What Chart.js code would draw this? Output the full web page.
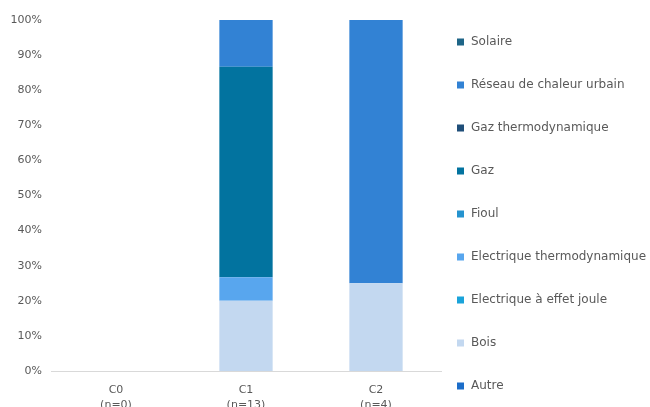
<!DOCTYPE html>
<html>
<head>
<meta charset="utf-8">
<script src="https://cdn.jsdelivr.net/npm/chart.js@4/dist/chart.umd.min.js"></script>
<style>
  html, body { margin: 0; padding: 0; background: #fff; overflow: hidden; }
  #wrap { width: 650px; height: 407px; overflow: hidden; }
</style>
</head>
<body>
<div id="wrap"><canvas id="myChart" width="650" height="460"></canvas></div>
<script>
// categories (two-line tick labels)
const categories = [['C0', '(n=0)'], ['C1', '(n=13)'], ['C2', '(n=4)']];

// share of each energy per category, in %
const autre = [0, 0, 0];
const bois = [0, 20, 25];
const elecJoule = [0, 0, 0];
const elecThermo = [0, 6.7, 0];
const fioul = [0, 0, 0];
const gaz = [0, 60, 0];
const gazThermo = [0, 0, 0];
const reseau = [0, 13.3, 75];
const solaire = [0, 0, 0];

const yTicks = [0, 10, 20, 30, 40, 50, 60, 70, 80, 90, 100];

const grey = '#595959';
const font = "'DejaVu Sans', sans-serif";

function serie(label, data, color) {
    return { label: label, data: data, backgroundColor: color, borderWidth: 0 };
}

// legend column on the right, last dataset on top, wide spacing between entries
const legendRight = {
    id: 'legendRight',
    afterDraw: function (c) {
        let g = c.ctx;
        let area = c.chartArea;
        let sets = c.data.datasets.slice().reverse();
        g.save();
        g.font = '12px ' + font;
        g.textBaseline = 'middle';
        sets.forEach(function (ds, i) {
            let y = area.top + 22 + i * 43;
            g.fillStyle = ds.backgroundColor;
            g.fillRect(area.right + 16, y - 3.5, 7, 7);
            g.fillStyle = grey;
            g.fillText(ds.label, area.right + 30, y);
        });
        g.restore();
    }
};

let ctx = document.getElementById('myChart').getContext('2d');
let chart = new Chart(ctx, {
    type: 'bar',
    data: {
        labels: categories,
        datasets: [
            serie('Autre', autre, '#1b6dc9'),
            serie('Bois', bois, '#c3d8f0'),
            serie('Electrique à effet joule', elecJoule, '#1aa3da'),
            serie('Electrique thermodynamique', elecThermo, '#58a6ee'),
            serie('Fioul', fioul, '#2593cf'),
            serie('Gaz', gaz, '#02739f'),
            serie('Gaz thermodynamique', gazThermo, '#1f4e79'),
            serie('Réseau de chaleur urbain', reseau, '#3282d4'),
            serie('Solaire', solaire, '#1e6587')
        ]
    },
    plugins: [legendRight],
    options: {
        responsive: false,
        animation: false,
        layout: { padding: { top: 20, right: 209, bottom: 0, left: 0 } },
        datasets: { bar: { barPercentage: 0.41, categoryPercentage: 1 } },
        plugins: {
            tooltip: { enabled: false },
            legend: { display: false }
        },
        scales: {
            x: {
                stacked: true,
                grid: { display: false, drawTicks: false },
                border: { display: true, color: '#d9d9d9', width: 1 },
                ticks: { color: grey, padding: 12, font: { family: font, size: 11, lineHeight: '15px' } },
                afterFit: function (scale) { scale.height = 89; }
            },
            y: {
                stacked: true,
                min: 0,
                max: 100,
                afterBuildTicks: function (scale) {
                    scale.ticks = yTicks.map(function (v) { return { value: v }; });
                },
                grid: { display: false, drawTicks: false },
                border: { display: false },
                ticks: {
                    color: grey,
                    padding: 9,
                    font: { family: font, size: 11 },
                    callback: function (v) { return v + '%'; }
                },
                afterFit: function (scale) { scale.width = 51; }
            }
        }
    }
});
</script>
</body>
</html>
